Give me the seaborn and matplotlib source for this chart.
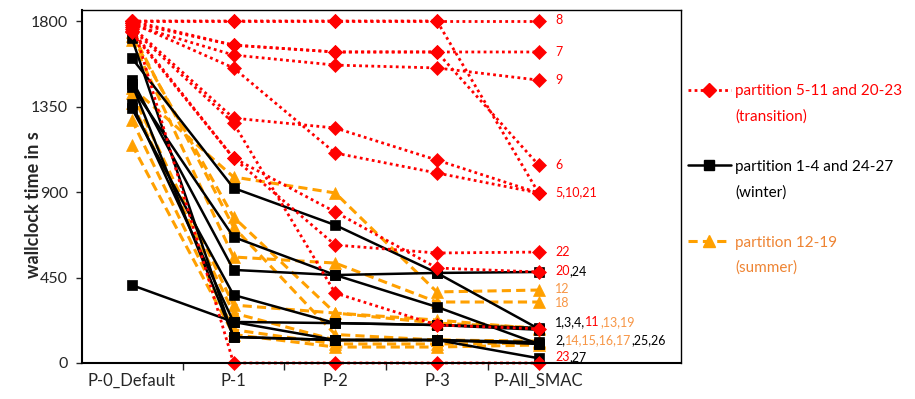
import numpy as np
import matplotlib.pyplot as plt
import pandas as pd
import seaborn as sns
from matplotlib.lines import Line2D

steps = ["P-0_Default", "P-1", "P-2", "P-3", "P-All_SMAC"]

# wallclock time per partition and configuration step
transition = {
    5: [1770, 1289, 1237, 1068, 895],
    6: [1800, 1673, 1637, 1637, 1042],
    7: [1790, 1673, 1637, 1637, 1637],
    8: [1800, 1800, 1800, 1800, 1800],
    9: [1780, 1621, 1568, 1553, 1489],
    10: [1800, 1800, 1800, 1800, 895],
    11: [1760, 1263, 368, 200, 180],
    20: [1750, 1079, 795, 500, 479],
    21: [1790, 1553, 1105, 1000, 895],
    22: [1740, 1079, 621, 579, 584],
    23: [1800, 0, 0, 0, 0],
}
winter = {
    1: [1490, 490, 463, 474, 180],
    2: [1455, 663, 463, 295, 100],
    3: [1340, 358, 210, 200, 185],
    4: [1365, 216, 210, 200, 175],
    24: [1605, 921, 726, 474, 479],
    25: [1710, 137, 121, 121, 110],
    26: [1470, 137, 121, 121, 100],
    27: [410, 216, 121, 121, 25],
}
summer = {
    12: [1450, 979, 895, 374, 384],
    13: [1720, 768, 263, 226, 180],
    14: [1370, 263, 121, 121, 110],
    15: [1280, 175, 100, 100, 105],
    16: [1150, 150, 84, 84, 95],
    17: [1740, 716, 150, 121, 115],
    18: [1700, 558, 526, 321, 321],
    19: [1420, 305, 263, 210, 185],
}

RED = "#FF0000"
ORANGE = "#FFA000"
ORANGE_TXT = "#F79646"

# labels at the right end: (y, [(text, colour), ...])
end_labels = [
    (1805, [("8", RED)]),
    (1637, [("7", RED)]),
    (1489, [("9", RED)]),
    (1042, [("6", RED)]),
    (900, [("5,10,21", RED)]),
    (584, [("22", RED)]),
    (484, [("20", RED), (",24", "black")]),
    (389, [("12", ORANGE_TXT)]),
    (316, [("18", ORANGE_TXT)]),
    (216, [("1,3,4,", "black"), ("11", RED), (",13,19", ORANGE_TXT)]),
    (121, [("2,", "black"), ("14,15,16,17", ORANGE_TXT), (",25,26", "black")]),
    (32, [("23", RED), (",27", "black")]),
]

rows = []
for season, group in [("transition", transition), ("winter", winter), ("summer", summer)]:
    for part, vals in group.items():
        for i, v in enumerate(vals):
            rows.append({"season": season, "partition": part, "step": i, "time": v})
df = pd.DataFrame(rows)

sns.set_style("white")
plt.rcParams["font.family"] = ["Lato", "DejaVu Sans"]

styles = {
    "transition": dict(color=RED, marker="D", markersize=7, linestyle=(0, (1, 1.2)), linewidth=2),
    "winter": dict(color="black", marker="s", markersize=7.5, linestyle="-", linewidth=1.8),
    "summer": dict(color=ORANGE, marker="^", markersize=8, linestyle=(0, (3, 1.7)), linewidth=2.2),
}

fig = plt.figure(figsize=(9.15, 3.99), dpi=100)
ax = fig.add_axes([82 / 915, 1 - 363 / 399, (681 - 82) / 915, (363 - 10) / 399])

for season in ["summer", "winter", "transition"]:
    st = styles[season]
    sns.lineplot(data=df[df.season == season], x="step", y="time", units="partition",
                 estimator=None, ax=ax, markeredgecolor=st["color"], markeredgewidth=0.5,
                 clip_on=False, **st)

ax.set_xlim(-0.49, 5.4)
ax.set_ylim(0, 1858)
ax.set_yticks([0, 450, 900, 1350, 1800])
ax.set_xticks(range(len(steps)))
ax.set_xticklabels(steps)
ax.set_xticks([0.5, 1.5, 2.5, 3.5], minor=True)
ax.tick_params(axis="x", which="major", length=0, pad=7, labelsize=12)
ax.tick_params(axis="x", which="minor", length=5, width=1, direction="out", bottom=True)
ax.tick_params(axis="y", length=4, width=1, direction="out", left=True, pad=6, labelsize=11.5)
ax.set_xlabel("")
ax.set_ylabel("wallclock time in s", fontsize=13, fontweight="bold")
ax.yaxis.set_label_coords(-0.067, 0.45)
for sp in ax.spines.values():
    sp.set_color("black")
    sp.set_linewidth(1)
ax.spines["left"].set_linewidth(1.5)
ax.spines["bottom"].set_linewidth(1.5)

for y, pieces in end_labels:
    prev = None
    for txt, col in pieces:
        if prev is None:
            prev = ax.annotate(txt, xy=(4, y), xytext=(12, 0), textcoords="offset points",
                               color=col, fontsize=9, va="center", ha="left")
        else:
            prev = ax.annotate(txt, xy=(1, 0), xycoords=prev, color=col, fontsize=9,
                               va="bottom", ha="left")

blank = Line2D([], [], color="none")
handles = [Line2D([], [], **styles["transition"]), blank, blank,
           Line2D([], [], **styles["winter"]), blank, blank,
           Line2D([], [], **styles["summer"]), blank]
labels = ["partition 5-11 and 20-23", "(transition)", " ",
          "partition 1-4 and 24-27", "(winter)", " ",
          "partition 12-19", "(summer)"]
leg_colors = [RED, RED, "black", "black", "black", "black", "#EE8433", "#EE8433"]
fig.legend(handles, labels, loc="upper left", bbox_to_anchor=(0.752, 0.7895),
           frameon=False, fontsize=11, labelcolor=leg_colors, borderaxespad=0,
           borderpad=0, handlelength=2.8, handletextpad=0.3, labelspacing=0.73)

fig.savefig("out.png", dpi=100)
